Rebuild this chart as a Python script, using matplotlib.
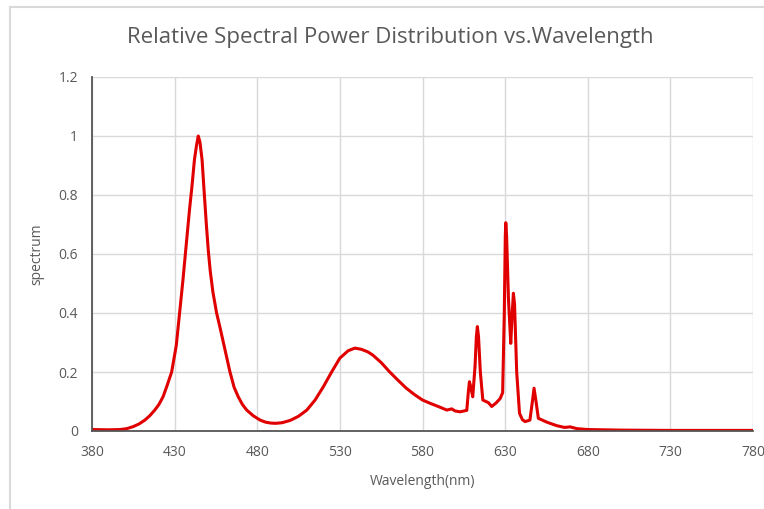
import matplotlib.pyplot as plt
from matplotlib.lines import Line2D

# Spectrum (wavelength in nm, relative power)
wavelength = [380, 390, 397, 401, 405, 408.5, 412, 415, 418, 420.5, 423, 425.5, 428.2, 431,
              433, 435, 437, 439, 440.5, 442, 443.3, 444.3, 445.3, 446.6, 448, 449.2,
              450.4, 451.6, 453.2, 455.4, 457.5, 459.5, 461.5, 463.5, 466, 468.5, 471, 473.6,
              477.5, 481.7, 485, 488, 491, 495, 500, 505, 510, 515, 520, 525, 530, 535, 539,
              543, 547, 550, 555, 560, 565, 570, 575, 580, 585, 590, 594.7, 597.7, 599.7,
              602.7, 606.8, 607.7, 608.4, 609.2, 610.4, 611.8, 612.6, 613.2, 613.9, 615,
              616.5, 619.9, 621.9, 624.5, 627, 628.5, 629.5, 630.1, 630.4, 630.9, 632,
              633.4, 634.3, 635, 635.7, 637, 638.7, 640.5, 642.1, 645, 646.5, 647.5, 648.7,
              650.1, 655.2, 661.3, 666, 669.3, 673.4, 680, 700, 730, 780]
spectrum = [0.005, 0.004, 0.005, 0.008, 0.015, 0.024, 0.037, 0.052, 0.071, 0.09, 0.116, 0.155,
            0.2, 0.29, 0.40, 0.51, 0.63, 0.75, 0.83, 0.92, 0.97, 1.0, 0.98, 0.92, 0.80, 0.70,
            0.61, 0.54, 0.47, 0.40, 0.35, 0.30, 0.25, 0.20, 0.148, 0.116, 0.09, 0.071,
            0.052, 0.037, 0.03, 0.027, 0.026, 0.028, 0.036, 0.05, 0.071, 0.105, 0.15, 0.2,
            0.247, 0.272, 0.281, 0.277, 0.268, 0.257, 0.232, 0.201, 0.173, 0.146, 0.124,
            0.105, 0.093, 0.082, 0.071, 0.075, 0.068, 0.065, 0.07, 0.13, 0.167, 0.15,
            0.116, 0.22, 0.32, 0.354, 0.32, 0.2, 0.105, 0.096, 0.083, 0.095, 0.11, 0.13,
            0.4, 0.66, 0.706, 0.66, 0.45, 0.297, 0.4, 0.467, 0.43, 0.2, 0.06, 0.038, 0.032,
            0.037, 0.1, 0.145, 0.1, 0.043, 0.03, 0.018, 0.012, 0.014, 0.008, 0.005, 0.003,
            0.002, 0.002]

x_ticks = [380, 430, 480, 530, 580, 630, 680, 730, 780]
y_ticks = [0, 0.2, 0.4, 0.6, 0.8, 1.0, 1.2]
y_labels = ['0', '0.2', '0.4', '0.6', '0.8', '1', '1.2']

plt.rcParams['font.family'] = ['Open Sans', 'DejaVu Sans']
gray = '#595959'

fig = plt.figure(figsize=(7.64, 5.09), dpi=100)
ax = fig.add_axes([92 / 764, 1 - 431 / 509, (753 - 92) / 764, (431 - 77) / 509])

ax.plot(wavelength, spectrum, color='#e00000', linewidth=2.2,
        solid_joinstyle='round', solid_capstyle='round')

ax.set_xlim(380, 780)
ax.set_ylim(0, 1.2)
ax.set_xticks(x_ticks)
ax.set_xticklabels([str(t) for t in x_ticks])
ax.set_yticks(y_ticks)
ax.set_yticklabels(y_labels)
ax.tick_params(length=0, labelsize=10, colors=gray, pad=10)
ax.grid(True, color='#d9d9d9', linewidth=1.0)
ax.set_axisbelow(True)

for s in ['top', 'right']:
    ax.spines[s].set_visible(False)
for s in ['left', 'bottom']:
    ax.spines[s].set_color('#555555')
    ax.spines[s].set_linewidth(1.3)
    ax.spines[s].set_zorder(3)

ax.set_xlabel('Wavelength(nm)', fontsize=10, color=gray, labelpad=10)
ax.set_ylabel('spectrum', fontsize=10, color=gray, labelpad=10)

fig.text(390 / 764, 1 - 37 / 509, 'Relative Spectral Power Distribution vs.Wavelength',
         ha='center', va='center', fontsize=16, color=gray)

# light chart-area frame
fig.add_artist(Line2D([10 / 764, 10 / 764], [0, 1 - 7 / 509], transform=fig.transFigure,
                      color='#d9d9d9', linewidth=1.5))
fig.add_artist(Line2D([10 / 764, 1], [1 - 7 / 509, 1 - 7 / 509], transform=fig.transFigure,
                      color='#d9d9d9', linewidth=1.5))

fig.savefig('out.png', dpi=100)
